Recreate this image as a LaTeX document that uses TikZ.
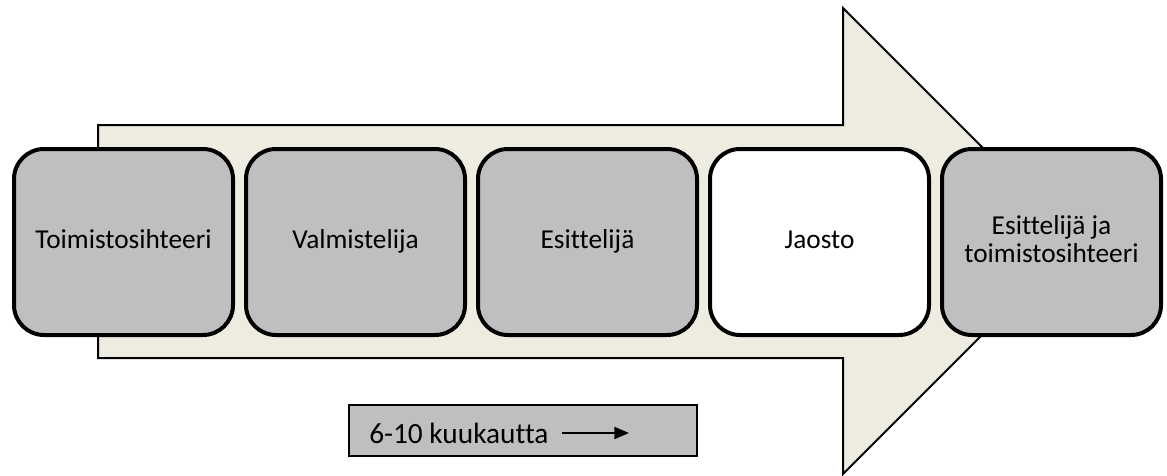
\documentclass[tikz,border=0pt]{standalone}
\usepackage{fontspec}
\setmainfont{Carlito}[Ligatures=NoCommon]
\usetikzlibrary{arrows.meta}
\definecolor{arrowfill}{HTML}{EEECE1}
\definecolor{stepgray}{HTML}{BFBFBF}
% strut that puts the baseline a little below the box centre
\newcommand{\labelstrut}{\rule[-4pt]{0pt}{16pt}}
\begin{document}
\begin{tikzpicture}[x=0.75pt,y=-0.75pt,
  stepbox/.style={draw=black, line width=3pt, rounded corners=22.5pt,
    fill=stepgray, minimum width=164.25pt, minimum height=139.5pt,
    inner sep=0pt, align=center, font=\fontsize{20.5}{21}\selectfont,
    execute at begin node=\labelstrut, execute at end node=\labelstrut},
  bigarrow/.style={draw=black, line width=1.5pt, fill=arrowfill, line join=miter},
  legendbox/.style={draw=black, line width=1.5pt, fill=stepgray, inner sep=0pt,
    minimum width=261pt, minimum height=38.25pt},
  legendtext/.style={font=\fontsize{22}{24}\selectfont, inner sep=0pt},
  timeline/.style={line width=1.5pt, -{Triangle[length=11pt,width=9pt]}}]
  \useasboundingbox (0,0) rectangle (1167,475);

  % large block arrow behind the steps
  \draw[bigarrow] (98,125) -- (843,125) -- (843,8) -- (1076,241)
    -- (843,474) -- (843,358) -- (98,358) -- cycle;

  % process steps
  \node[stepbox] (s1) at (123.5,242) {Toimistosihteeri};
  \node[stepbox] (s2) at (355.5,242) {Valmistelija};
  \node[stepbox] (s3) at (587.5,242) {Esittelijä};
  \node[stepbox, fill=white] (s4) at (819.5,242) {Jaosto};
  \node[stepbox] (s5) at (1051.5,242) {Esittelijä ja\\toimistosihteeri};

  % duration legend
  \node[legendbox] (leg) at (523,430.5) {};
  \node[legendtext, anchor=base west] (legtext) at (369,443) {6-10 kuukautta};
  \coordinate (t0) at (562,433);
  \coordinate (t1) at (629,433);
  \draw[timeline] (t0) -- (t1);
\end{tikzpicture}
\end{document}
